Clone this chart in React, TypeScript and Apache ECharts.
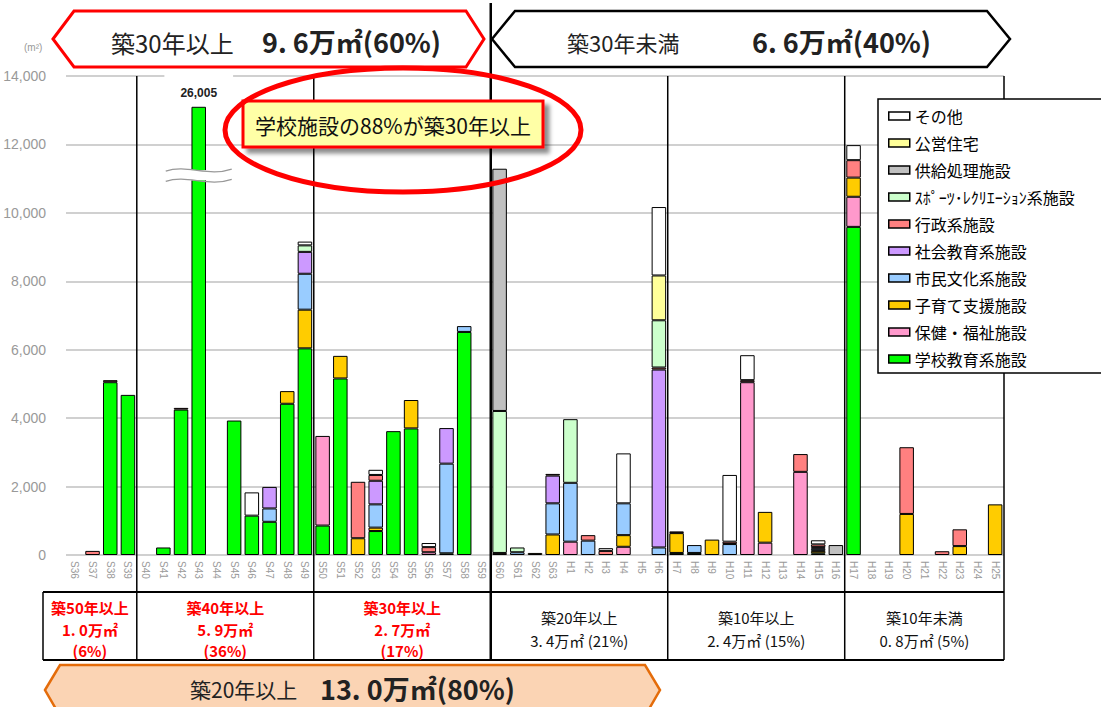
import React, { useEffect, useRef } from 'react';
import * as echarts from 'echarts';

// ---------- data ----------
const categories = [
  'S36', 'S37', 'S38', 'S39',
  'S40', 'S41', 'S42', 'S43', 'S44', 'S45', 'S46', 'S47', 'S48', 'S49',
  'S50', 'S51', 'S52', 'S53', 'S54', 'S55', 'S56', 'S57', 'S58', 'S59',
  'S60', 'S61', 'S62', 'S63', 'H1', 'H2', 'H3', 'H4', 'H5', 'H6',
  'H7', 'H8', 'H9', 'H10', 'H11', 'H12', 'H13', 'H14', 'H15', 'H16',
  'H17', 'H18', 'H19', 'H20', 'H21', 'H22', 'H23', 'H24', 'H25',
];

// stacking order: bottom -> top
const seriesNames = [
  '学校教育系施設', '保健・福祉施設', '子育て支援施設', '市民文化系施設', '社会教育系施設',
  '行政系施設', 'ｽﾎﾟｰﾂ･ﾚｸﾘｴｰｼｮﾝ系施設', '供給処理施設', '公営住宅', 'その他',
];
const seriesColors = [
  '#00ff00', '#ff99cc', '#ffcc00', '#99ccff', '#cc99ff',
  '#ff8080', '#ccffcc', '#c0c0c0', '#ffff99', '#ffffff',
];

const school = [
  0, 0, 5050, 4680,
  0, 220, 4250, 26005, 0, 3930, 1150, 970, 4420, 6040,
  860, 5160, 0, 700, 3620, 3700, 0, 50, 6520, 0,
  0, 0, 0, 0, 0, 0, 0, 0, 0, 0,
  60, 60, 0, 0, 0, 0, 0, 0, 50, 0,
  9590, 0, 0, 0, 0, 0, 0, 0, 0,
];
const welfare = [
  0, 0, 0, 0,
  0, 0, 0, 0, 0, 0, 0, 0, 0, 0,
  2620, 0, 0, 0, 0, 0, 80, 0, 0, 0,
  0, 0, 0, 0, 390, 0, 0, 240, 0, 0,
  0, 0, 0, 0, 5050, 360, 0, 2430, 0, 0,
  880, 0, 0, 0, 0, 0, 0, 0, 0,
];
const childcare = [
  0, 0, 0, 0,
  0, 0, 0, 0, 0, 0, 0, 0, 370, 1130,
  0, 660, 490, 100, 0, 830, 0, 0, 0, 0,
  0, 0, 60, 600, 0, 0, 0, 340, 0, 0,
  580, 0, 450, 0, 0, 900, 0, 0, 70, 0,
  560, 0, 0, 1200, 0, 0, 260, 0, 1480,
];
const culture = [
  0, 0, 0, 0,
  0, 0, 0, 0, 0, 0, 0, 390, 0, 1050,
  0, 0, 0, 680, 0, 0, 0, 2620, 170, 0,
  0, 80, 0, 910, 1720, 420, 0, 930, 0, 220,
  0, 230, 0, 320, 0, 0, 0, 0, 60, 0,
  0, 0, 0, 0, 0, 0, 0, 0, 0,
];
const socialEdu = [
  0, 0, 0, 0,
  0, 0, 0, 0, 0, 0, 0, 630, 0, 640,
  0, 0, 0, 690, 0, 0, 0, 1040, 0, 0,
  0, 0, 0, 810, 0, 0, 0, 0, 0, 5200,
  0, 0, 0, 0, 0, 0, 0, 0, 50, 0,
  0, 0, 0, 0, 0, 0, 0, 0, 0,
];
const admin = [
  0, 120, 60, 0,
  0, 0, 50, 0, 0, 0, 0, 0, 0, 0,
  0, 0, 1650, 170, 0, 0, 150, 0, 0, 0,
  60, 0, 0, 50, 0, 160, 120, 0, 0, 60,
  50, 0, 0, 70, 60, 0, 0, 520, 80, 0,
  510, 0, 0, 1950, 0, 110, 490, 0, 0,
];
const sports = [
  0, 0, 0, 0,
  0, 0, 0, 0, 0, 0, 0, 0, 0, 190,
  0, 0, 0, 0, 0, 0, 0, 0, 0, 0,
  4150, 140, 0, 0, 1860, 0, 0, 0, 0, 1380,
  0, 0, 0, 0, 0, 0, 0, 0, 0, 0,
  0, 0, 0, 0, 0, 0, 0, 0, 0,
];
const supply = [
  0, 0, 0, 0,
  0, 0, 0, 0, 0, 0, 0, 0, 0, 0,
  0, 0, 0, 0, 0, 0, 0, 0, 0, 0,
  7080, 0, 0, 0, 0, 0, 0, 0, 0, 0,
  0, 0, 0, 0, 0, 0, 0, 0, 0, 290,
  0, 0, 0, 0, 0, 0, 0, 0, 0,
];
const housing = [
  0, 0, 0, 0,
  0, 0, 0, 0, 0, 0, 0, 0, 0, 0,
  0, 0, 0, 0, 0, 0, 0, 0, 0, 0,
  0, 0, 0, 0, 0, 0, 0, 0, 0, 1310,
  0, 0, 0, 0, 0, 0, 0, 0, 0, 0,
  0, 0, 0, 0, 0, 0, 0, 0, 0,
];
const other = [
  0, 0, 0, 0,
  0, 0, 0, 0, 0, 0, 680, 0, 0, 110,
  0, 0, 0, 150, 0, 0, 120, 0, 0, 0,
  0, 0, 0, 0, 0, 0, 80, 1460, 0, 2000,
  0, 0, 0, 1950, 730, 0, 0, 0, 120, 0,
  440, 0, 0, 0, 0, 0, 0, 0, 0,
];

const yMin = 0;
const yMax = 14000;
const yInterval = 2000;
const brokenBarShownAs = 13100; // height at which the off-scale bar is drawn (axis break)

// age bands (category index where each band starts)
const bandStarts = [0, 4, 14, 24, 34, 44];
const bandTitles = ['築50年以上', '築40年以上', '築30年以上', '築20年以上', '築10年以上', '築10年未満'];
const bandAreas = ['1. 0万㎡', '5. 9万㎡', '2. 7万㎡', '3. 4万㎡', '2. 4万㎡', '0. 8万㎡'];
const bandShares = ['(6%)', '(36%)', '(17%)', '(21%)', '(15%)', '(5%)'];

const bannerOld = ['築30年以上', '9. 6万㎡(60%)'];
const bannerNew = ['築30年未満', '6. 6万㎡(40%)'];
const bannerTwenty = ['築20年以上', '13. 0万㎡(80%)'];
const calloutText = '学校施設の88%が築30年以上';

const FONT = "'Noto Sans CJK JP', 'Noto Sans', sans-serif";

export default function App() {
  const ref = useRef<HTMLDivElement>(null);

  useEffect(() => {
    const chart = echarts.init(ref.current!, null, { renderer: 'svg' });
    const stacks = [school, welfare, childcare, culture, socialEdu, admin, sports, supply, housing, other];

    const series = stacks.map((vals, s) => ({
      name: seriesNames[s],
      type: 'bar',
      stack: 'total',
      barWidth: '82%',
      z: 2,
      itemStyle: { color: seriesColors[s], borderColor: '#000', borderWidth: 1 },
      emphasis: { disabled: true },
      data: vals.map((v) => {
        if (v === 0) return '-';
        if (v > yMax) {
          return {
            value: brokenBarShownAs,
            label: {
              show: true,
              position: 'top',
              distance: 4,
              formatter: () => v.toLocaleString('en-US'),
              fontFamily: 'Liberation Sans',
              fontWeight: 'bold',
              fontSize: 12,
              color: '#222',
              backgroundColor: '#fff',
              padding: [16, 16, 4, 16],
            },
          };
        }
        return v;
      }),
    }));

    const option: any = {
      animation: false,
      textStyle: { fontFamily: FONT },
      grid: { left: 66, right: 97, top: 76, bottom: 152, containLabel: false },
      legend: {
        data: [...seriesNames].reverse(),
        orient: 'vertical',
        left: 888,
        top: 108,
        padding: 0,
        itemGap: 11,
        itemWidth: 21,
        itemHeight: 8,
        selectedMode: false,
        z: 11,
        icon: 'rect',
        itemStyle: { borderColor: '#000', borderWidth: 1.5 },
        textStyle: { fontSize: 16, color: '#000', fontFamily: FONT },
      },
      xAxis: {
        type: 'category',
        data: categories,
        axisLine: { show: false },
        axisTick: { show: false },
        axisLabel: {
          interval: 0,
          rotate: -90,
          margin: 6,
          fontSize: 10,
          color: '#9a9a9a',
          fontFamily: 'Liberation Sans',
        },
      },
      yAxis: {
        type: 'value',
        min: yMin,
        max: yMax,
        interval: yInterval,
        axisLine: { show: false },
        axisTick: { show: false },
        axisLabel: {
          margin: 20,
          fontSize: 14,
          color: '#999',
          fontFamily: 'Liberation Sans',
          formatter: (v: number) => v.toLocaleString('en-US'),
        },
        splitLine: { lineStyle: { color: '#c0c0c0', width: 1.5 } },
      },
      series,
    };
    chart.setOption(option);

    const P = (i: number, v: number) => chart.convertToPixel({ gridIndex: 0 }, [i, v]) as number[];
    const half = (P(1, 0)[0] - P(0, 0)[0]) / 2;
    const boundaryX = (k: number) => (k >= categories.length ? P(categories.length - 1, 0)[0] + half : P(k, 0)[0] - half);
    const topY = P(0, yMax)[1];
    const rightX = boundaryX(categories.length);
    const tableTop = 592;
    const tableBottom = 660;
    const tableLeft = 43;

    const els: any[] = [];

    // unit label
    els.push({ type: 'text', x: 24, y: 42, style: { text: '(m²)', fontSize: 10, fill: '#999', fontFamily: 'Liberation Sans' } });

    // separator lines for age bands
    bandStarts.slice(1).forEach((k) => {
      const x = boundaryX(k);
      const thick = k === 24;
      els.push({
        type: 'line', z: 3,
        shape: { x1: x, y1: thick ? 3 : topY, x2: x, y2: tableBottom },
        style: { stroke: '#000', lineWidth: thick ? 2.5 : 1.5 },
      });
    });
    els.push({ type: 'line', z: 3, shape: { x1: rightX, y1: topY, x2: rightX, y2: tableBottom }, style: { stroke: '#000', lineWidth: 1.5 } });
    els.push({ type: 'line', z: 3, shape: { x1: tableLeft, y1: tableTop, x2: tableLeft, y2: tableBottom }, style: { stroke: '#000', lineWidth: 1.5 } });
    els.push({ type: 'line', z: 3, shape: { x1: tableLeft, y1: tableTop, x2: rightX, y2: tableTop }, style: { stroke: '#000', lineWidth: 2 } });
    els.push({ type: 'line', z: 3, shape: { x1: tableLeft, y1: tableBottom, x2: rightX, y2: tableBottom }, style: { stroke: '#000', lineWidth: 2 } });

    // table texts
    const edges = [tableLeft, ...bandStarts.slice(1).map(boundaryX), rightX];
    bandTitles.forEach((t, b) => {
      const cx = (edges[b] + edges[b + 1]) / 2;
      const old = b < 3;
      const base = { fontFamily: FONT, align: 'center', verticalAlign: 'middle' };
      if (old) {
        const st = { ...base, fill: '#ff0000', fontSize: 15, fontWeight: 'bold' };
        els.push({ type: 'text', z: 4, x: cx, y: 607, style: { ...st, text: t } });
        els.push({ type: 'text', z: 4, x: cx, y: 629, style: { ...st, text: bandAreas[b] } });
        els.push({ type: 'text', z: 4, x: cx, y: 650, style: { ...st, text: bandShares[b] } });
      } else {
        const st = { ...base, fill: '#111', fontSize: 15 };
        els.push({ type: 'text', z: 4, x: cx, y: 617, style: { ...st, text: t } });
        els.push({ type: 'text', z: 4, x: cx, y: 640, style: { ...st, text: bandAreas[b] + ' ' + bandShares[b] } });
      }
    });

    // top banners
    els.push({
      type: 'polygon', z: 4,
      shape: { points: [[53, 39], [74, 11], [466, 11], [484, 39], [466, 67], [74, 67]] },
      style: { fill: '#fff', stroke: '#ff0000', lineWidth: 3 },
    });
    els.push({ type: 'text', z: 5, x: 111, y: 42, style: { text: bannerOld[0], fontSize: 24, fill: '#222', fontFamily: FONT, verticalAlign: 'middle' } });
    els.push({ type: 'text', z: 5, x: 262, y: 41, style: { text: bannerOld[1], fontSize: 27, fontWeight: 'bold', fill: '#222', fontFamily: FONT, verticalAlign: 'middle' } });

    els.push({
      type: 'polygon', z: 4,
      shape: { points: [[492, 39], [515, 11], [987, 11], [1010, 39], [987, 67], [515, 67]] },
      style: { fill: '#fff', stroke: '#000', lineWidth: 2.5 },
    });
    els.push({ type: 'text', z: 5, x: 567, y: 42, style: { text: bannerNew[0], fontSize: 22, fill: '#222', fontFamily: FONT, verticalAlign: 'middle' } });
    els.push({ type: 'text', z: 5, x: 752, y: 41, style: { text: bannerNew[1], fontSize: 27, fontWeight: 'bold', fill: '#222', fontFamily: FONT, verticalAlign: 'middle' } });

    // bottom banner
    els.push({
      type: 'polygon', z: 4,
      shape: { points: [[45, 690], [60, 665], [645, 665], [660, 690], [645, 716], [60, 716]] },
      style: { fill: '#fbd4b4', stroke: '#e46c0a', lineWidth: 2.5 },
    });
    els.push({ type: 'text', z: 5, x: 190, y: 689, style: { text: bannerTwenty[0], fontSize: 21, fill: '#222', fontFamily: FONT, verticalAlign: 'middle' } });
    els.push({ type: 'text', z: 5, x: 320, y: 688, style: { text: bannerTwenty[1], fontSize: 27, fontWeight: 'bold', fill: '#222', fontFamily: FONT, verticalAlign: 'middle' } });

    // legend frame
    els.push({
      type: 'rect', z: 10,
      shape: { x: 878, y: 99, width: 240, height: 274 },
      style: { fill: '#fff', stroke: '#000', lineWidth: 1.5 },
    });

    // callout
    els.push({
      type: 'rect', z: 20,
      shape: { x: 243, y: 101, width: 300, height: 46 },
      style: {
        fill: '#ffffa6', stroke: '#ff0000', lineWidth: 3,
        shadowBlur: 4, shadowOffsetX: 5, shadowOffsetY: 5, shadowColor: 'rgba(0,0,0,0.45)',
      },
    });
    els.push({ type: 'text', z: 21, x: 393, y: 125, style: { text: calloutText, fontSize: 21, fill: '#111', fontFamily: FONT, align: 'center', verticalAlign: 'middle' } });
    els.push({
      type: 'ellipse', z: 22,
      shape: { cx: 403, cy: 130, rx: 178, ry: 62 },
      style: { fill: 'none', stroke: '#ff0000', lineWidth: 5 },
    });

    // axis-break mark on the off-scale bar
    const brokenIdx = school.findIndex((v) => v > yMax);
    if (brokenIdx >= 0) {
      const cx = P(brokenIdx, 0)[0];
      const y1 = P(brokenIdx, 11250)[1];
      const y2 = P(brokenIdx, 10950)[1];
      els.push({ type: 'rect', z: 6, shape: { x: cx - 9, y: y1, width: 18, height: y2 - y1 }, style: { fill: '#fff' } });
      [y1, y2].forEach((y) => {
        els.push({
          type: 'bezierCurve', z: 7,
          shape: { x1: cx - 33, y1: y + 1, cpx1: cx - 12, cpy1: y - 6, cpx2: cx + 10, cpy2: y + 7, x2: cx + 33, y2: y - 1 },
          style: { stroke: '#999', lineWidth: 1.3, fill: 'none' },
        });
      });
    }

    chart.setOption({ graphic: [{ elements: els }] });

    return () => chart.dispose();
  }, []);

  return <div ref={ref} style={{ position: 'absolute', left: 0, top: 0, width: 1101, height: 707 }} />;
}
